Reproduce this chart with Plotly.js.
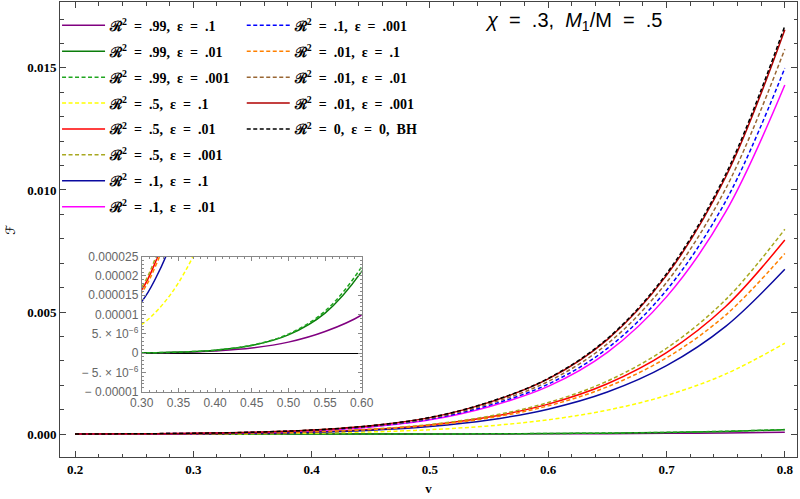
<!DOCTYPE html>
<html>
<head>
<meta charset="utf-8">
<script src="https://cdn.plot.ly/plotly-3.0.1.min.js"></script>
<style>
  html, body { margin: 0; padding: 0; background: #fff; }
  #chart { width: 800px; height: 499px; }
</style>
</head>
<body>
<div id="chart"></div>
<script>
// orbital velocity v
const v = [0.20, 0.25, 0.30, 0.32, 0.34, 0.36, 0.38, 0.40, 0.45, 0.50, 0.55, 0.60, 0.65, 0.70, 0.75, 0.80];

// flux F for each (R^2, epsilon) pair
const f_99_1   = [3.5e-9, 1.7e-8, 6.5e-8, 1.05e-7, 1.65e-7, 2.5e-7, 3.75e-7, 5.6e-7, 1.32e-6, 2.85e-6, 5.6e-6, 9.9e-6, 1.74e-5, 2.92e-5, 4.73e-5, 7.4e-5];
const f_99_01  = [2.6e-9, 1.6e-8, 7.2e-8, 1.22e-7, 2.01e-7, 3.22e-7, 5.0e-7, 7.63e-7, 2.0e-6, 4.75e-6, 1.039e-5, 2.12e-5, 3.8e-5, 6.55e-5, 1.09e-4, 1.75e-4];
const f_99_001 = [2.65e-9, 1.63e-8, 7.35e-8, 1.245e-7, 2.05e-7, 3.28e-7, 5.1e-7, 7.78e-7, 2.06e-6, 4.94e-6, 1.091e-5, 2.24e-5, 4.03e-5, 6.95e-5, 1.155e-4, 1.855e-4];
const f_5_1    = [7.7e-7, 2.68e-6, 7.45e-6, 1.083e-5, 1.54e-5, 2.145e-5, 2.935e-5, 4.07e-5, 8.8e-5, 1.78e-4, 3.35e-4, 5.85e-4, 9.8e-4, 1.58e-3, 2.46e-3, 3.72e-3];
const f_5_01   = [1.56e-6, 5.7e-6, 1.64e-5, 2.42e-5, 3.48e-5, 4.9e-5, 6.77e-5, 9.21e-5, 1.91e-4, 3.75e-4, 6.96e-4, 1.226e-3, 2.061e-3, 3.337e-3, 5.226e-3, 7.95e-3];
const f_5_001  = [1.64e-6, 6.0e-6, 1.71e-5, 2.53e-5, 3.64e-5, 5.13e-5, 7.09e-5, 9.65e-5, 2.0e-4, 3.94e-4, 7.32e-4, 1.29e-3, 2.17e-3, 3.515e-3, 5.507e-3, 8.39e-3];
const f_1_1    = [1.27e-6, 4.66e-6, 1.34e-5, 1.98e-5, 2.84e-5, 4.0e-5, 5.54e-5, 7.54e-5, 1.57e-4, 3.09e-4, 5.76e-4, 1.019e-3, 1.72e-3, 2.80e-3, 4.41e-3, 6.75e-3];
const f_1_01   = [2.71e-6, 9.46e-6, 2.62e-5, 3.82e-5, 5.44e-5, 7.59e-5, 1.04e-4, 1.40e-4, 2.94e-4, 5.83e-4, 1.122e-3, 1.952e-3, 3.347e-3, 5.62e-3, 9.10e-3, 1.43e-2];
const f_1_001  = [2.84e-6, 9.9e-6, 2.75e-5, 4.0e-5, 5.69e-5, 7.94e-5, 1.088e-4, 1.467e-4, 3.08e-4, 6.11e-4, 1.176e-3, 2.046e-3, 3.508e-3, 5.893e-3, 9.54e-3, 1.499e-2];
const f_01_1   = [1.49e-6, 5.45e-6, 1.57e-5, 2.31e-5, 3.33e-5, 4.68e-5, 6.46e-5, 8.78e-5, 1.815e-4, 3.55e-4, 6.58e-4, 1.155e-3, 1.936e-3, 3.124e-3, 4.875e-3, 7.40e-3];
const f_01_01  = [2.98e-6, 1.04e-5, 2.88e-5, 4.20e-5, 5.97e-5, 8.33e-5, 1.142e-4, 1.54e-4, 3.24e-4, 6.43e-4, 1.238e-3, 2.155e-3, 3.695e-3, 6.21e-3, 1.005e-2, 1.577e-2];
const f_01_001 = [3.12e-6, 1.09e-5, 3.02e-5, 4.40e-5, 6.26e-5, 8.73e-5, 1.197e-4, 1.614e-4, 3.40e-4, 6.73e-4, 1.297e-3, 2.257e-3, 3.87e-3, 6.50e-3, 1.053e-2, 1.656e-2];
const f_bh     = [3.15e-6, 1.10e-5, 3.05e-5, 4.44e-5, 6.32e-5, 8.82e-5, 1.209e-4, 1.63e-4, 3.43e-4, 6.8e-4, 1.31e-3, 2.28e-3, 3.91e-3, 6.57e-3, 1.064e-2, 1.672e-2];

const labels = [
    'ℛ<sup>2</sup>  =  .99,  ε  =  .1',
    'ℛ<sup>2</sup>  =  .99,  ε  =  .01',
    'ℛ<sup>2</sup>  =  .99,  ε  =  .001',
    'ℛ<sup>2</sup>  =  .5,  ε  =  .1',
    'ℛ<sup>2</sup>  =  .5,  ε  =  .01',
    'ℛ<sup>2</sup>  =  .5,  ε  =  .001',
    'ℛ<sup>2</sup>  =  .1,  ε  =  .1',
    'ℛ<sup>2</sup>  =  .1,  ε  =  .01',
    'ℛ<sup>2</sup>  =  .1,  ε  =  .001',
    'ℛ<sup>2</sup>  =  .01,  ε  =  .1',
    'ℛ<sup>2</sup>  =  .01,  ε  =  .01',
    'ℛ<sup>2</sup>  =  .01,  ε  =  .001',
    'ℛ<sup>2</sup>  =  0,  ε  =  0,  BH'
].map(s => s.replace(/  /g, '\u00a0 '));

const inset_ticks = [-1e-5, -5e-6, 0, 5e-6, 1e-5, 1.5e-5, 2e-5, 2.5e-5];
const inset_ticktext = ['− 0.00001', '− 5. × 10<sup>−6</sup>', '0', '5. × 10<sup>−6</sup>',
    '0.00001', '0.000015', '0.00002', '0.000025'];

const series = [f_99_1, f_99_01, f_99_001, f_5_1, f_5_01, f_5_001, f_1_1,
    f_1_01, f_1_001, f_01_1, f_01_01, f_01_001, f_bh];

// styles
const colors = ['#800080', '#0b7d0b', '#1fa51f', '#ffff00', '#ff0000', '#a8a820', '#0a0aa0',
    '#ff00ff', '#0000ff', '#ff8000', '#996633', '#b00000', '#000000'];
const dashed = [false, false, true, true, false, true, false, false, true, true, true, false, true];

function makeTrace(i, inset) {
    return {
        x: v,
        y: series[i],
        type: 'scatter',
        mode: 'lines',
        name: labels[i],
        xaxis: inset ? 'x2' : 'x',
        yaxis: inset ? 'y2' : 'y',
        legend: i < 8 ? 'legend' : 'legend2',
        legendgroup: 'g' + i,
        showlegend: !inset,
        line: {
            color: colors[i],
            width: 1.5,
            shape: 'spline',
            dash: dashed[i] ? '4px,2.5px' : 'solid'
        },
        hoverinfo: 'skip'
    };
}

const data = [];
for (let i = 0; i < series.length; i++) {
    data.push(makeTrace(i, false));
}
for (let i = 0; i < series.length; i++) {
    data.push(makeTrace(i, true));
}

const serifBold = {family: 'Liberation Serif, Times New Roman, serif', size: 13, color: '#000', weight: 'bold'};
const legendFont = {family: 'Liberation Serif, Times New Roman, serif', size: 14, color: '#000', weight: 'bold'};
const insetFont = {family: 'Liberation Sans, Arial, sans-serif', size: 12, color: '#666'};

const legendBase = {
    bgcolor: 'rgba(0,0,0,0)',
    borderwidth: 0,
    font: legendFont,
    xref: 'paper',
    yref: 'paper',
    yanchor: 'top',
    xanchor: 'left',
    itemwidth: 43,
    tracegroupgap: 4.7,
    itemclick: false,
    itemdoubleclick: false
};

const layout = {
    width: 800,
    height: 499,
    margin: {l: 60, r: 3, t: 2, b: 42},
    paper_bgcolor: '#fff',
    plot_bgcolor: '#fff',
    showlegend: true,
    legend: Object.assign({}, legendBase, {x: -0.004, y: 0.983}),
    legend2: Object.assign({}, legendBase, {x: 0.2466, y: 0.983}),
    xaxis: {
        title: {text: 'v', font: serifBold, standoff: 8},
        automargin: false,
        range: [0.1873, 0.8103],
        dtick: 0.1,
        tick0: 0.2,
        tickformat: '.1f',
        ticks: 'inside',
        ticklen: 6,
        tickcolor: '#444',
        minor: {dtick: 0.02, ticklen: 3.5, tickcolor: '#444', ticks: 'inside'},
        showline: true,
        linecolor: '#444',
        linewidth: 1,
        mirror: 'allticks',
        showgrid: false,
        zeroline: false,
        tickfont: serifBold
    },
    yaxis: {
        title: {text: 'ℱ', font: {family: 'DejaVu Sans, sans-serif', size: 13, color: '#000'}, standoff: 8},
        automargin: false,
        range: [-0.00094, 0.0177],
        dtick: 0.005,
        tick0: 0,
        tickformat: '.3f',
        ticks: 'inside',
        ticklen: 6,
        tickcolor: '#444',
        minor: {dtick: 0.001, ticklen: 3.5, tickcolor: '#444', ticks: 'inside'},
        showline: true,
        linecolor: '#444',
        linewidth: 1,
        mirror: 'allticks',
        showgrid: false,
        zeroline: false,
        tickfont: serifBold
    },
    xaxis2: {
        domain: [0.1109, 0.4094],
        anchor: 'y2',
        range: [0.3, 0.6],
        dtick: 0.05,
        tick0: 0.3,
        tickformat: '.2f',
        ticks: 'inside',
        ticklen: 4,
        tickcolor: '#888',
        minor: {dtick: 0.01, ticklen: 2, tickcolor: '#888', ticks: 'inside'},
        showline: true,
        linecolor: '#888',
        linewidth: 1,
        mirror: 'allticks',
        showgrid: false,
        zeroline: false,
        tickfont: insetFont
    },
    yaxis2: {
        domain: [0.1435, 0.4402],
        anchor: 'x2',
        range: [-1e-5, 2.5e-5],
        tickmode: 'array',
        tickvals: inset_ticks,
        ticktext: inset_ticktext,
        ticks: 'inside',
        ticklen: 4,
        tickcolor: '#888',
        minor: {dtick: 1e-6, ticklen: 2, tickcolor: '#888', ticks: 'inside'},
        showline: true,
        linecolor: '#888',
        linewidth: 1,
        mirror: 'allticks',
        showgrid: false,
        zeroline: true,
        zerolinecolor: '#000',
        zerolinewidth: 1.2,
        tickfont: insetFont
    },
    annotations: [
        {
            text: '<i>χ</i>\u00a0 = \u00a0.3,\u00a0 <i>M</i><sub>1</sub>/M\u00a0 = \u00a0.5',
            xref: 'paper', yref: 'paper',
            x: 0.6964, y: 0.957,
            xanchor: 'center', yanchor: 'middle',
            showarrow: false,
            font: {family: 'Liberation Sans, Arial, sans-serif', size: 20, color: '#000'}
        }
    ]
};

Plotly.newPlot('chart', data, layout, {displayModeBar: false, staticPlot: true});
</script>
</body>
</html>
